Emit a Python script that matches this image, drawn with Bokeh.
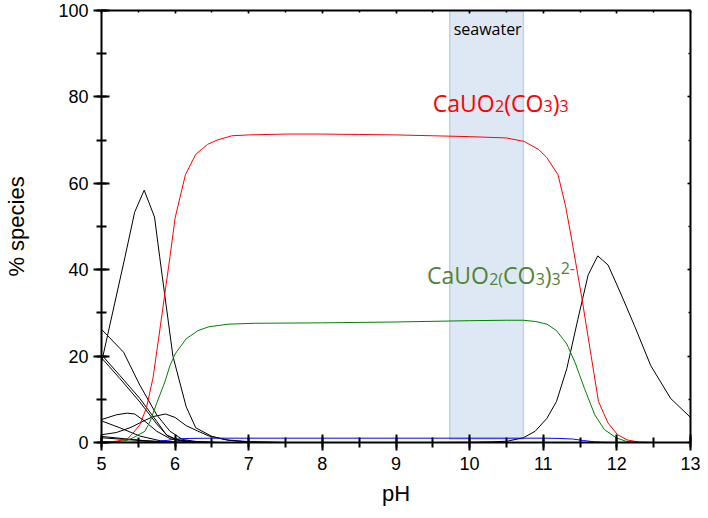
from bokeh.plotting import figure
from bokeh.models import Range1d, LinearAxis, SingleIntervalTicker, Label, CustomLabelingPolicy
from bokeh.embed import file_html
from bokeh.resources import INLINE

# ---------------- data ----------------
# CaUO2(CO3)3 (red)
red_ph = [5.0, 5.2, 5.35, 5.43, 5.52, 5.61, 5.70, 5.80, 5.93, 6.0, 6.14, 6.28, 6.44, 6.57, 6.77, 7.0,
          7.5, 8.0, 8.5, 9.0, 9.5, 10.0, 10.5, 10.74, 10.94, 11.05, 11.2, 11.3, 11.38, 11.52, 11.65,
          11.75, 11.88, 12.01, 12.14, 12.3, 12.5, 13.0]
red_val = [0.0, 0.3, 0.8, 2.2, 4.1, 8.0, 15.0, 27.0, 43.0, 52.0, 62.0, 66.7, 69.0, 70.0, 71.0, 71.2,
           71.4, 71.4, 71.3, 71.2, 71.0, 70.8, 70.5, 69.7, 67.8, 65.9, 62.0, 55.0, 47.6, 33.9, 20.1,
           9.5, 4.5, 1.8, 0.6, 0.1, 0.0, 0.0]

# CaUO2(CO3)3 2- (green)
green_ph = [5.0, 5.2, 5.35, 5.43, 5.59, 5.66, 5.75, 5.86, 5.93, 6.0, 6.15, 6.31, 6.46, 6.73, 7.09,
            8.0, 9.0, 10.0, 10.5, 10.73, 10.9, 11.05, 11.18, 11.32, 11.43, 11.56, 11.7, 11.83,
            11.99, 12.12, 12.3, 12.5, 13.0]
green_val = [0.0, 0.2, 0.5, 1.1, 2.6, 4.9, 9.1, 14.0, 17.8, 20.5, 24.0, 25.9, 26.8, 27.4, 27.6,
             27.7, 27.9, 28.2, 28.3, 28.3, 28.0, 27.4, 25.9, 22.8, 18.6, 12.5, 6.4, 3.0,
             1.1, 0.3, 0.05, 0.0, 0.0]

# blue minor species
blue_ph = [5.0, 5.4, 5.7, 5.9, 6.0, 6.2, 6.5, 7.0, 8.0, 9.0, 10.0, 10.5, 11.0, 11.2, 11.4, 11.55,
           11.7, 11.85, 12.0, 13.0]
blue_val = [0.0, 0.05, 0.2, 0.5, 0.8, 0.95, 1.0, 1.0, 1.0, 1.0, 1.0, 1.0, 1.0, 0.95, 0.8, 0.45,
            0.15, 0.03, 0.0, 0.0]

# black species, high pH
bk_hi_ph = [6.5, 9.5, 10.0, 10.3, 10.51, 10.73, 10.89, 11.05, 11.18, 11.32, 11.47, 11.61, 11.74,
            11.88, 12.05, 12.24, 12.46, 12.73, 13.0]
bk_hi_val = [0.0, 0.0, 0.05, 0.15, 0.3, 1.1, 2.6, 5.6, 9.5, 17.1, 28.5, 38.8, 43.2,
             41.1, 34.6, 27.0, 17.8, 10.2, 5.8]

# black species, low pH
bk1_ph = [5.0, 5.32, 5.45, 5.58, 5.72, 5.79, 5.97, 6.15, 6.28, 6.5, 6.73, 7.0, 7.5, 13.0]
bk1_val = [18.5, 43.0, 53.3, 58.4, 52.2, 43.0, 20.0, 8.3, 3.4, 1.4, 0.5, 0.1, 0.0, 0.0]

bk2_ph = [5.0, 5.3, 5.52, 5.75, 5.93, 6.1, 6.3, 6.6]
bk2_val = [26.2, 20.9, 13.3, 6.4, 2.6, 0.7, 0.2, 0.0]

bk3_ph = [5.0, 5.25, 5.52, 5.75, 5.88, 6.0, 6.2, 6.5]
bk3_val = [20.3, 15.5, 10.2, 4.9, 1.8, 0.8, 0.2, 0.0]

bk4_ph = [5.0, 5.25, 5.52, 5.75, 5.9, 6.05, 6.3, 6.6]
bk4_val = [19.6, 14.8, 9.4, 4.3, 1.5, 0.5, 0.1, 0.0]

bk5_ph = [5.0, 5.2, 5.35, 5.45, 5.59, 5.75, 5.93, 6.1, 6.3, 6.6]
bk5_val = [5.3, 6.4, 6.8, 6.6, 4.9, 2.6, 0.9, 0.3, 0.05, 0.0]

bk6_ph = [5.0, 5.2, 5.4, 5.55, 5.7, 5.87, 6.0, 6.15, 6.3, 6.46, 6.7, 7.0, 7.5]
bk6_val = [1.8, 2.3, 3.5, 4.8, 6.0, 6.6, 5.8, 3.9, 2.7, 1.5, 0.6, 0.2, 0.0]

bk7_ph = [5.0, 5.25, 5.52, 5.8, 6.0, 6.3]
bk7_val = [5.0, 3.4, 1.5, 0.4, 0.1, 0.0]

bk8_ph = [5.0, 5.3, 5.6, 5.9, 6.2]
bk8_val = [1.4, 0.9, 0.4, 0.1, 0.0]

bk9_ph = [5.0, 5.4, 5.8, 6.1]
bk9_val = [1.1, 0.6, 0.2, 0.0]

seawater_ph = [9.73, 10.73]
seawater_pct = [0.8, 100.0]

# ---------------- figure ----------------
p = figure(width=700, height=510, output_backend="svg", toolbar_location=None,
           x_range=Range1d(5, 13), y_range=Range1d(0, 100),
           min_border_left=101, min_border_right=10, min_border_top=10, min_border_bottom=68,
           x_axis_label="pH", y_axis_label="% species")
p.outline_line_color = None
p.xgrid.visible = False
p.ygrid.visible = False
p.background_fill_color = "white"
p.border_fill_color = "white"

TICK_FONT = "Liberation Sans"

for ax, ticker_int in ((p.xaxis[0], 1), (p.yaxis[0], 20)):
    ax.ticker = SingleIntervalTicker(interval=ticker_int, num_minor_ticks=2)
    ax.axis_line_width = 2
    ax.major_tick_line_width = 2
    ax.minor_tick_line_width = 2
    ax.major_tick_in = 8
    ax.major_tick_out = 8
    ax.minor_tick_in = 5
    ax.minor_tick_out = 5
    ax.major_label_text_font = TICK_FONT
    ax.major_label_text_font_size = "18px"
    ax.major_label_text_color = "black"
    ax.axis_label_text_font = TICK_FONT
    ax.axis_label_text_font_size = "22px"
    ax.axis_label_text_font_style = "normal"
    ax.axis_label_text_color = "black"

p.xaxis[0].major_label_standoff = 6
p.xaxis[0].axis_label_standoff = 8
p.yaxis[0].major_label_standoff = 5
p.yaxis[0].axis_label_standoff = 26

no_labels = CustomLabelingPolicy(code="return new Set()")
top_ax = LinearAxis(ticker=SingleIntervalTicker(interval=1, num_minor_ticks=2))
right_ax = LinearAxis(ticker=SingleIntervalTicker(interval=20, num_minor_ticks=2))
for ax in (top_ax, right_ax):
    ax.axis_line_width = 2
    ax.major_tick_line_width = 1.5
    ax.minor_tick_line_width = 1.5
    ax.major_tick_in = 3
    ax.major_tick_out = 0
    ax.minor_tick_in = 2
    ax.minor_tick_out = 0
    ax.major_label_policy = no_labels
    ax.major_label_text_font_size = "1px"
    ax.major_label_standoff = 0
p.add_layout(top_ax, "above")
p.add_layout(right_ax, "right")

# seawater band
p.quad(left=[seawater_ph[0]], right=[seawater_ph[1]], bottom=[seawater_pct[0]], top=[seawater_pct[1]],
       fill_color="#dee8f4", line_color="#bdd3ec", line_width=1.5)

# curves
for xs, ys in ((bk1_ph, bk1_val), (bk2_ph, bk2_val), (bk3_ph, bk3_val), (bk4_ph, bk4_val),
               (bk5_ph, bk5_val), (bk6_ph, bk6_val), (bk7_ph, bk7_val), (bk8_ph, bk8_val),
               (bk9_ph, bk9_val), (bk_hi_ph, bk_hi_val)):
    p.line(xs, ys, line_color="black", line_width=1)

p.line(blue_ph, blue_val, line_color="#0000ff", line_width=1)
p.line(green_ph, green_val, line_color="#008000", line_width=1)
p.line(red_ph, red_val, line_color="#ff0000", line_width=1)

# labels
LBL_FONT = "Open Sans"
p.add_layout(Label(x=9.783, y=95.65, text="seawater", text_font=LBL_FONT, text_font_size="16px",
                   text_color="black", text_baseline="alphabetic"))


def formula(x, y, pieces, color):
    # pieces: (text, x_offset_px, y_offset_px, size_px)
    for txt, dx, dy, size in pieces:
        p.add_layout(Label(x=x, y=y, x_offset=dx, y_offset=dy, text=txt, text_font=LBL_FONT,
                           text_font_size=f"{size}px", text_color=color,
                           text_baseline="alphabetic"))


formula(9.5, 78.7, [("CaUO", 0, 0, 23), ("2", 62.3, -3.5, 16), ("(CO", 71.4, 0, 23),
                     ("3", 110.8, -3.5, 16), (")", 119.9, 0, 23), ("3", 126.7, -3.5, 16)], "#ff0000")
formula(9.42, 38.83, [("CaUO", 0, 0, 23), ("2(", 62.3, -4, 16), ("CO", 76.2, 0, 23),
                       ("3", 108.8, -4, 16), (")", 117.9, 0, 23), ("3", 124.7, -4, 16),
                       ("2-", 133.8, 7, 16)], "#548235")

open("out.html", "w").write(file_html(p, INLINE))
